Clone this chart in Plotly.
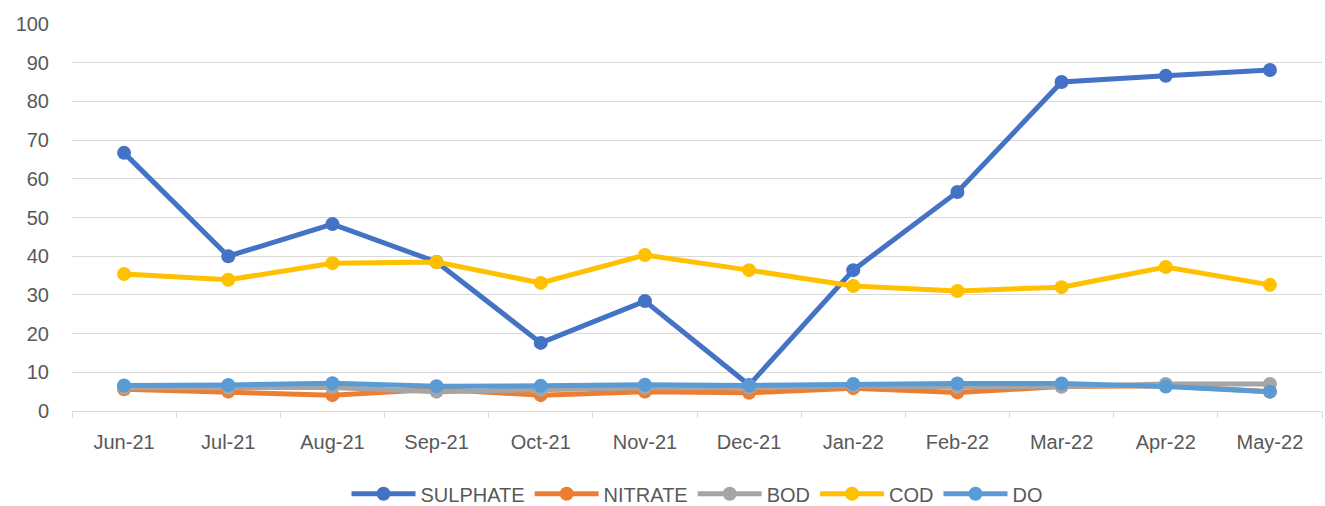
import plotly.graph_objects as go

months = ["Jun-21", "Jul-21", "Aug-21", "Sep-21", "Oct-21", "Nov-21",
          "Dec-21", "Jan-22", "Feb-22", "Mar-22", "Apr-22", "May-22"]
sulphate = [66.7, 40.0, 48.3, 38.5, 17.6, 28.4, 6.7, 36.4, 56.6, 85.0, 86.6, 88.1]
nitrate = [5.6, 5.0, 4.1, 5.6, 4.1, 5.0, 4.7, 5.9, 4.8, 6.3, 6.5, 5.0]
bod = [6.0, 6.0, 6.1, 5.0, 5.5, 6.0, 6.0, 6.5, 6.2, 6.3, 7.0, 7.0]
cod = [35.4, 33.9, 38.2, 38.5, 33.1, 40.3, 36.4, 32.3, 31.0, 32.0, 37.2, 32.6]
do = [6.6, 6.7, 7.2, 6.4, 6.5, 6.8, 6.6, 7.0, 7.1, 7.1, 6.3, 5.0]

series = [("SULPHATE", sulphate, "#4472C4"),
          ("NITRATE", nitrate, "#ED7D31"),
          ("BOD", bod, "#A5A5A5"),
          ("COD", cod, "#FFC000"),
          ("DO", do, "#5B9BD5")]

fig = go.Figure()
for name, vals, color in series:
    fig.add_trace(go.Scatter(
        x=months, y=vals, name=name, mode="lines+markers",
        line=dict(color=color, width=5),
        marker=dict(color=color, size=14),
    ))

font_color = "#595959"
fig.update_layout(
    width=1325, height=506,
    margin=dict(l=72, r=3, t=24, b=95, autoexpand=False),
    paper_bgcolor="white", plot_bgcolor="white",
    font=dict(family="Liberation Sans, Arial, sans-serif", size=20, color=font_color),
    showlegend=True,
    legend=dict(orientation="h", x=0.5, xanchor="center", y=-0.214, yanchor="middle",
                font=dict(size=20, color=font_color), itemwidth=64,
                tracegroupgap=0),
    xaxis=dict(showgrid=False, showline=True, linecolor="#D9D9D9", linewidth=1,
               ticks="outside", tickson="boundaries", ticklen=6, tickcolor="#D9D9D9",
               tickfont=dict(size=20, color=font_color), automargin=False,
               ticklabelstandoff=13, range=[-0.5, len(months) - 0.5]),
    yaxis=dict(range=[0, 100], dtick=10, showgrid=True, gridcolor="#D9D9D9",
               gridwidth=1, zeroline=False, showline=False, ticks="",
               tickfont=dict(size=20, color=font_color), ticklabelstandoff=22,
               automargin=False),
)

fig.write_html("out.html", config={"displayModeBar": False},
               post_script="document.body.style.margin='0';document.body.style.overflow='hidden';")
